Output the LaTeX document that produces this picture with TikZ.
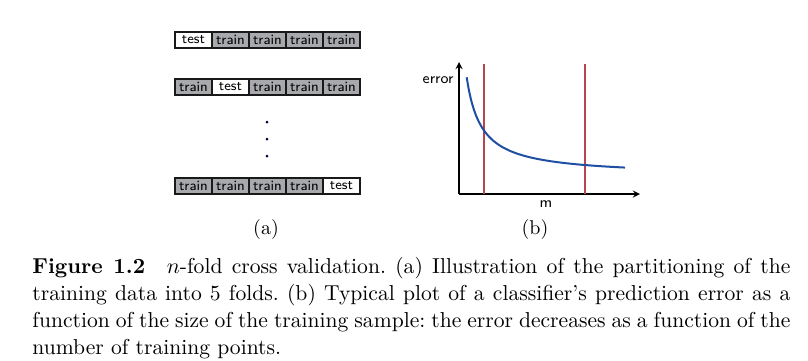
\documentclass[tikz,border=0pt]{standalone}
\usepackage{amsmath,amssymb}
\usepackage{tikz}
\usetikzlibrary{arrows,positioning,calc}

\definecolor{foldgray}{HTML}{A7A9AC}
\definecolor{cutred}{HTML}{B8454D}
\definecolor{curveblue}{HTML}{1F4FA3}

\begin{document}
\frenchspacing
\begin{tikzpicture}[
    x=0.5pt, y=-0.5pt,
    fold/.style={draw=black!90, line width=1.1pt, fill=foldgray, rectangle, outer sep=0pt, inner sep=0pt,
                 minimum width=18.5pt, minimum height=8pt, font=\sffamily\fontsize{7}{8}\selectfont},
    testfold/.style={fold, fill=white},
    dot/.style={circle, fill=black!80!blue, inner sep=0pt, minimum size=1.5pt},
    cut/.style={draw=cutred, line width=0.8pt},
    axislabel/.style={font=\sffamily\fontsize{7.5}{8}\selectfont, inner sep=1pt}
]
\useasboundingbox (0,0) rectangle (808,360);

% (a) the five folds
\node[testfold] (a1) at (193.5,40) {test};
\node[fold, right=0pt of a1] (a2) {train};
\node[fold, right=0pt of a2] (a3) {train};
\node[fold, right=0pt of a3] (a4) {train};
\node[fold, right=0pt of a4] (a5) {train};

\node[fold] (b1) at (193.5,87) {train};
\node[testfold, right=0pt of b1] (b2) {test};
\node[fold, right=0pt of b2] (b3) {train};
\node[fold, right=0pt of b3] (b4) {train};
\node[fold, right=0pt of b4] (b5) {train};

\node[dot] (d1) at (267,122) {};
\node[dot] (d2) at (267,139) {};
\node[dot] (d3) at (267,156) {};

\node[fold] (c1) at (193.5,186) {train};
\node[fold, right=0pt of c1] (c2) {train};
\node[fold, right=0pt of c2] (c3) {train};
\node[fold, right=0pt of c3] (c4) {train};
\node[testfold, right=0pt of c4] (c5) {test};

\node (suba) at (266,229) {(a)};

% (b) error against sample size
\coordinate (origin) at (459,194);
\coordinate (ytop) at (459,62);
\coordinate (xend) at (640,194);
\draw[->, >=stealth, line width=0.6pt] (origin) -- (ytop);
\draw[->, >=stealth, line width=0.6pt] (origin) -- (xend);
\node[axislabel, anchor=east] (errlabel) at (456,80) {error};
\node[axislabel] (mlabel) at (546,204) {m};

\coordinate (cutA) at (484,64);
\coordinate (cutB) at (585,64);
\draw[cut] (cutA) -- (cutA |- origin);
\draw[cut] (cutB) -- (cutB |- origin);

\draw[curveblue, line width=1pt] plot[domain=7.7:166, samples=90, smooth]
    ({459+\x},{176-1461/(\x+7.1)});

\node (subb) at (535,229) {(b)};

% caption
\node[anchor=north west, text width=379pt, align=justify, inner sep=0pt,
      font=\fontsize{10.8}{13.5}\selectfont] (caption) at (32,257)
    {\textbf{Figure 1.2}\quad $n$-fold cross validation. (a) Illustration of the partitioning of the\linebreak
     training data into 5 folds. (b) Typical plot of a classifier's prediction error as a\linebreak
     function of the size of the training sample: the error decreases as a function of the\linebreak
     number of training points.};

\end{tikzpicture}
\end{document}
